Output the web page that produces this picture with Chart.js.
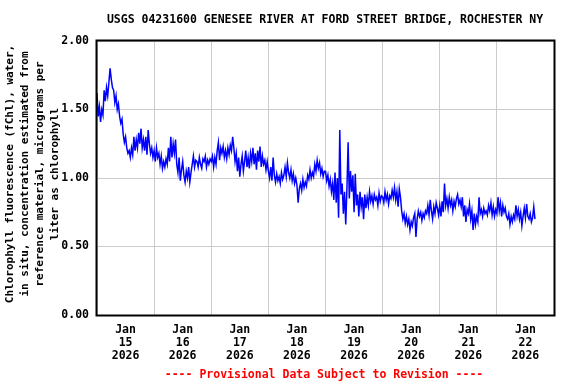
<!DOCTYPE html>
<html>
<head>
<meta charset="utf-8">
<script src="https://cdn.jsdelivr.net/npm/chart.js@4/dist/chart.umd.min.js"></script>
<style>
html,body{margin:0;padding:0;background:#fff;}
#wrap{width:576px;height:384px;position:relative;}
</style>
</head>
<body>
<div id="wrap"><canvas id="c" width="576" height="384"></canvas></div>
<script>
// ---- DATA (half-hourly readings, Jan 15 00:00 onward) ----
const chartTitle = "USGS 04231600 GENESEE RIVER AT FORD STREET BRIDGE, ROCHESTER NY";
const yAxisTitle = ["Chlorophyll fluorescence (fChl), water,",
  "in situ, concentration estimated from",
  "reference material, micrograms per",
  "liter as chlorophyll"];
const footerText = "---- Provisional Data Subject to Revision ----";
const dayLabels = ["15","16","17","18","19","20","21","22"];
const monthLabel = "Jan";
const yearLabel = "2026";
const yTicks = [0, 0.5, 1.0, 1.5, 2.0];

const jan15 = [1.62,1.45,1.52,1.41,1.50,1.46,1.64,1.56,1.66,1.60,1.70,1.80,1.72,1.66,1.64,1.55,1.60,1.50,1.54,1.45,1.40,1.43,1.32,1.26,1.30,1.22,1.18,1.20,1.15,1.22,1.17,1.30,1.20,1.28,1.22,1.33,1.25,1.36,1.22,1.28,1.20,1.30,1.17,1.35,1.25,1.18,1.22,1.15];
const jan16 = [1.20,1.12,1.22,1.15,1.18,1.10,1.16,1.07,1.12,1.08,1.14,1.10,1.22,1.12,1.30,1.15,1.25,1.18,1.28,1.10,1.04,1.15,0.98,1.06,1.12,1.02,0.97,1.05,1.00,1.08,0.97,1.04,1.10,1.16,1.08,1.13,1.12,1.08,1.15,1.10,1.07,1.14,1.12,1.16,1.08,1.13,1.10,1.14];
const jan17 = [1.12,1.16,1.08,1.15,1.10,1.20,1.26,1.13,1.22,1.18,1.23,1.15,1.20,1.14,1.22,1.17,1.24,1.20,1.30,1.22,1.12,1.18,1.05,1.15,1.01,1.10,1.16,1.05,1.12,1.20,1.08,1.15,1.07,1.18,1.12,1.22,1.10,1.18,1.06,1.20,1.12,1.23,1.08,1.16,1.10,1.13,1.06,1.12];
const jan18 = [1.05,1.00,1.08,0.98,1.15,1.02,0.97,1.03,0.98,1.01,0.96,1.04,0.99,1.02,1.08,1.01,1.11,1.04,1.00,1.06,0.98,1.03,0.96,1.00,0.95,0.82,0.92,0.96,0.91,0.99,0.93,0.97,0.94,1.02,0.99,1.06,1.00,1.04,1.01,1.10,1.05,1.13,1.07,1.11,1.03,1.07,1.01,1.05];
const jan19 = [1.05,0.98,1.02,0.94,0.99,0.90,0.96,0.84,1.04,0.82,1.00,0.71,1.35,0.88,0.96,0.74,0.90,0.66,0.92,1.26,0.85,1.05,0.90,1.02,0.75,1.03,0.80,0.88,0.72,0.90,0.79,0.86,0.70,0.88,0.78,0.86,0.80,0.90,0.83,0.87,0.81,0.88,0.84,0.86,0.80,0.89,0.83,0.87];
const jan20 = [0.86,0.82,0.90,0.84,0.88,0.81,0.87,0.85,0.91,0.86,0.93,0.84,0.90,0.79,0.92,0.86,0.76,0.70,0.74,0.67,0.72,0.66,0.70,0.62,0.68,0.65,0.71,0.74,0.57,0.70,0.76,0.72,0.75,0.69,0.74,0.71,0.76,0.74,0.80,0.73,0.84,0.76,0.70,0.79,0.74,0.82,0.78,0.73];
const jan21 = [0.80,0.72,0.83,0.75,0.96,0.80,0.85,0.78,0.86,0.80,0.84,0.76,0.83,0.79,0.85,0.88,0.81,0.84,0.79,0.86,0.72,0.80,0.68,0.77,0.74,0.81,0.70,0.76,0.62,0.74,0.66,0.72,0.68,0.86,0.74,0.77,0.72,0.78,0.74,0.76,0.73,0.80,0.76,0.82,0.73,0.79,0.72,0.77];
const jan22 = [0.74,0.86,0.76,0.82,0.72,0.80,0.75,0.78,0.72,0.70,0.74,0.66,0.72,0.68,0.73,0.70,0.80,0.72,0.77,0.70,0.75,0.65,0.72,0.78,0.71,0.81,0.72,0.70,0.74,0.68,0.71,0.79,0.70];

const days = [jan15, jan16, jan17, jan18, jan19, jan20, jan21, jan22];
const points = [];
days.forEach((arr, d) => arr.forEach((v, i) => points.push({x: d + i / 48, y: v})));

const MONO = '"DejaVu Sans Mono", "Liberation Mono", monospace';

const decor = {
  id: 'decor',
  afterDraw(chart) {
    const ctx = chart.ctx, a = chart.chartArea;
    ctx.save();
    ctx.strokeStyle = '#000';
    ctx.lineWidth = 2;
    ctx.strokeRect(a.left - 0.5, a.top - 0.5, a.right - a.left + 1, a.bottom - a.top + 1);
    ctx.fillStyle = '#000';
    ctx.font = 'bold 11.5px ' + MONO;
    ctx.textAlign = 'center';
    ctx.textBaseline = 'middle';
    ctx.fillText(chartTitle, 325, 20);
    ctx.save();
    ctx.font = 'bold 11px ' + MONO;
    const cy = (a.top + a.bottom) / 2 - 4;
    const xs = [10.5, 25.5, 40.5, 55];
    yAxisTitle.forEach((t, i) => {
      ctx.save();
      ctx.translate(xs[i], cy);
      ctx.rotate(-Math.PI / 2);
      ctx.fillText(t, 0, 0);
      ctx.restore();
    });
    ctx.restore();
    ctx.fillStyle = '#ff0000';
    ctx.font = 'bold 11.5px ' + MONO;
    ctx.fillText(footerText, 324, 375);
    ctx.restore();
  }
};

new Chart(document.getElementById('c'), {
  type: 'line',
  data: {
    datasets: [{
      data: points,
      borderColor: '#0000ff',
      borderWidth: 1.5,
      pointRadius: 0,
      tension: 0,
      fill: false
    }]
  },
  options: {
    responsive: false,
    animation: false,
    events: [],
    layout: {padding: {top: 41, right: 22, bottom: 0, left: 0}},
    plugins: {legend: {display: false}, tooltip: {enabled: false}, title: {display: false}},
    scales: {
      x: {
        type: 'linear',
        min: 0, max: 8,
        afterFit(s) { s.height = 69; },
        afterBuildTicks(s) {
          const t = [];
          for (let v = 0; v <= 8; v += 0.5) t.push({value: v});
          s.ticks = t;
        },
        border: {display: false},
        grid: {
          drawTicks: false,
          lineWidth: 1,
          color: c => (c.tick && c.tick.value % 1 === 0) ? '#cccccc' : 'rgba(0,0,0,0)'
        },
        ticks: {
          autoSkip: false,
          maxRotation: 0,
          padding: 9,
          color: '#000',
          font: {family: MONO, size: 11.5, weight: 'bold', lineHeight: 1.1},
          callback: v => (v % 1 === 0.5) ? [monthLabel, dayLabels[Math.floor(v)], yearLabel] : ''
        }
      },
      y: {
        min: 0, max: 2,
        afterFit(s) { s.width = 97; },
        afterBuildTicks(s) { s.ticks = yTicks.map(v => ({value: v})); },
        border: {display: false},
        grid: {drawTicks: false, color: '#cccccc', lineWidth: 1},
        ticks: {
          padding: 8,
          color: '#000',
          font: {family: MONO, size: 11.5, weight: 'bold'},
          callback: v => Number(v).toFixed(2)
        }
      }
    }
  },
  plugins: [decor]
});
</script>
</body>
</html>
